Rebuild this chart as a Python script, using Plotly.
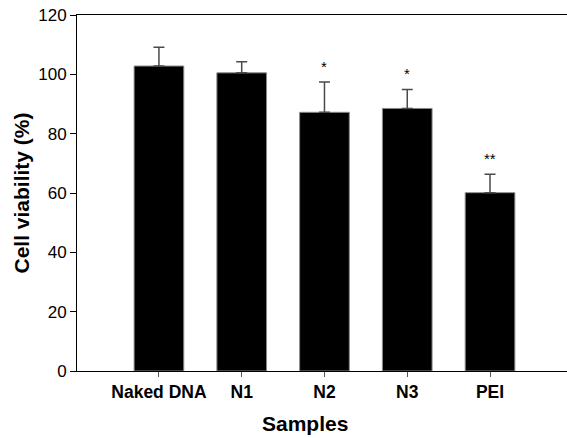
import plotly.graph_objects as go

samples = ["Naked DNA", "N1", "N2", "N3", "PEI"]
viability = [102.8, 100.5, 87.2, 88.5, 60.1]
sd = [6.3, 3.7, 10.2, 6.4, 6.2]
signif = ["", "", "*", "*", "**"]
y_ticks = [0, 20, 40, 60, 80, 100, 120]

FONT = "Arial, 'Liberation Sans', Helvetica, sans-serif"

fig = go.Figure()
fig.add_trace(go.Bar(
    x=list(range(len(samples))), y=viability,
    width=0.6,
    marker=dict(color="black", line=dict(color="#8a8a8a", width=1)),
    error_y=dict(type="data", array=sd, arrayminus=[0]*len(sd), symmetric=False,
                 color="#4a4a4a", thickness=1.5, width=5.5),
    showlegend=False, hoverinfo="skip",
))

for i, s in enumerate(signif):
    if s:
        fig.add_annotation(x=i, y=viability[i] + sd[i], xref="x", yref="y",
                           text=s, showarrow=False, yanchor="bottom", yshift=5,
                           font=dict(family=FONT, size=15, color="black"))

fig.add_annotation(x=0.465, y=-0.148, xref="paper", yref="paper",
                   text="<b>Samples</b>", showarrow=False, yanchor="middle",
                   font=dict(family=FONT, size=21, color="black"))

fig.update_layout(
    width=567, height=438,
    margin=dict(l=77, r=0, t=15, b=67),
    paper_bgcolor="white", plot_bgcolor="white",
    font=dict(family=FONT, color="black"),
    xaxis=dict(
        range=[-0.99, 4.93],
        tickmode="array", tickvals=list(range(len(samples))),
        ticktext=["<b>%s</b>" % s for s in samples],
        tickfont=dict(family=FONT, size=17.5, color="black"),
        ticks="outside", ticklen=5, tickcolor="#555", tickwidth=1,
        showline=True, linecolor="black", linewidth=1, mirror=True,
        showgrid=False, zeroline=False,
    ),
    yaxis=dict(
        range=[0, 120],
        tickmode="array", tickvals=y_ticks,
        tickfont=dict(family=FONT, size=17, color="black"),
        ticks="outside", ticklen=6, tickcolor="black", tickwidth=1,
        showline=True, linecolor="black", linewidth=1,
        showgrid=False, zeroline=False,
        title=dict(text="<b>Cell viability (%)</b>", font=dict(family=FONT, size=21, color="black"), standoff=2),
    ),
)

fig.write_html("out.html")
